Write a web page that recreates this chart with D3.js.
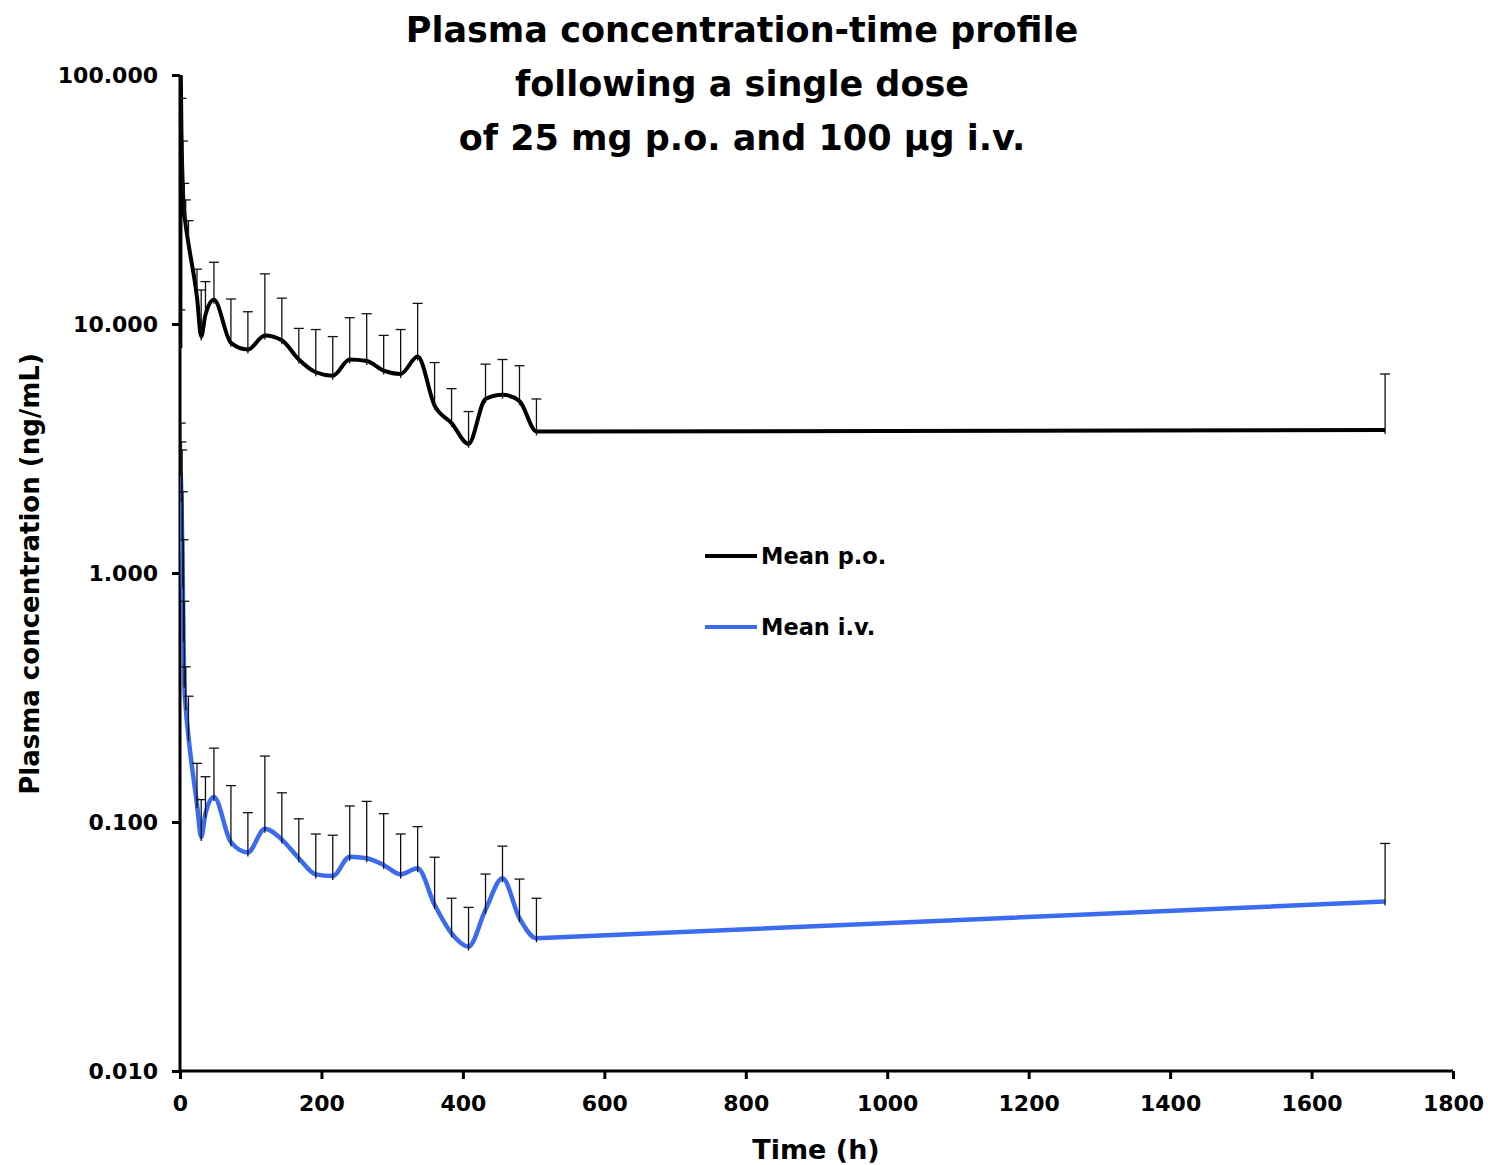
<!DOCTYPE html>
<html>
<head>
<meta charset="utf-8">
<script src="https://cdn.jsdelivr.net/npm/d3@7"></script>
<style>
  body { margin: 0; background: #fff; }
  text { font-family: "DejaVu Sans", Arial, sans-serif; font-weight: bold; fill: #000; }
</style>
</head>
<body>
<div class="chart"></div>
<script>
// sampling times (h)
const poTime = [0.5, 1, 2, 4, 6, 8, 12, 24, 30, 36, 48, 72, 96, 120, 144, 168, 192, 216, 240, 264, 288, 312, 336, 360, 384, 408, 432, 456, 480, 504, 1704];
const poMean = [8, 100, 60, 35, 28, 25, 21, 12.8, 8.9, 10.9, 12.5, 8.4, 7.9, 9.0, 8.6, 7.2, 6.4, 6.2, 7.2, 7.1, 6.5, 6.3, 7.4, 4.7, 4.0, 3.3, 5.0, 5.2, 4.9, 3.7, 3.75];
const poSD   = [3.4, 25, 20.6, 19.3, 8.7, 6.5, 5, 3.8, 4.8, 3.9, 5.2, 4.2, 3.3, 6.9, 4.1, 2.4, 3.1, 2.7, 3.4, 3.9, 2.5, 3.2, 4.7, 2.3, 1.5, 1.15, 1.9, 2.0, 1.9, 1.3, 2.55];

const ivTime = [1, 2, 3, 4, 5, 6, 8, 12, 24, 30, 36, 48, 72, 96, 120, 144, 168, 192, 216, 240, 264, 288, 312, 336, 360, 384, 408, 432, 456, 480, 504, 1704];
const ivMean = [2.55, 2.0, 1.4, 0.9, 0.55, 0.36, 0.29, 0.22, 0.118, 0.087, 0.108, 0.126, 0.083, 0.0755, 0.094, 0.085, 0.0715, 0.0616, 0.0607, 0.0726, 0.0715, 0.0672, 0.0616, 0.0652, 0.0465, 0.0357, 0.0316, 0.0444, 0.0594, 0.0411, 0.0341, 0.0479];
const ivSD   = [1.45, 1.36, 1.72, 1.22, 0.81, 0.41, 0.13, 0.10, 0.054, 0.036, 0.044, 0.072, 0.057, 0.0335, 0.090, 0.046, 0.0315, 0.0279, 0.0278, 0.0434, 0.0495, 0.0408, 0.0279, 0.0306, 0.0257, 0.0137, 0.0138, 0.0174, 0.0206, 0.0179, 0.0153, 0.0341];

const xTicks = [0, 200, 400, 600, 800, 1000, 1200, 1400, 1600, 1800];
const yTicks = [0.01, 0.1, 1, 10, 100];
const titleLines = ['Plasma concentration-time profile', 'following a single dose', 'of 25 mg p.o. and 100 µg i.v.'];

const _width = 1488, _height = 1165;
const margin = {left: 180, right: 35, top: 75, bottom: 94};
const blue = '#3b6cf0';

let svg = d3.select('.chart')
    .append('svg')
    .attr('width', _width)
    .attr('height', _height);

let x = d3.scaleLinear().domain([0, 1800]).range([margin.left, _width - margin.right]);
let y = d3.scaleLog().domain([0.01, 100]).range([_height - margin.bottom, margin.top]);

svg.append('defs').append('clipPath').attr('id', 'plot')
    .append('rect')
    .attr('x', x(0)).attr('y', y(100))
    .attr('width', x(1800) - x(0) + 5).attr('height', y(0.01) - y(100));

// title
svg.append('g').selectAll('text')
    .data(titleLines)
    .enter().append('text')
    .attr('x', 742)
    .attr('y', (d, i) => 42 + i * 54)
    .attr('text-anchor', 'middle')
    .style('font-size', '35px')
    .text(d => d);

// axes first, curves are drawn over them
let xAxis = svg.append('g')
    .attr('transform', `translate(0,${y(0.01)})`)
    .call(d3.axisBottom(x).tickValues(xTicks).tickSize(8).tickPadding(16).tickFormat(d3.format('d')));
let yAxis = svg.append('g')
    .attr('transform', `translate(${x(0)},0)`)
    .call(d3.axisLeft(y).tickValues(yTicks).tickSize(8).tickPadding(14).tickFormat(d3.format('.3f')));

[xAxis, yAxis].forEach(a => {
    a.select('.domain').attr('stroke', '#000').attr('stroke-width', 3);
    a.selectAll('.tick line').attr('stroke', '#000').attr('stroke-width', 3);
    a.selectAll('.tick text')
        .style('font-size', '22px')
        .style('font-family', '"DejaVu Sans", Arial, sans-serif')
        .style('font-weight', 'bold')
        .attr('fill', '#000');
});
xAxis.select('.domain').attr('d', `M${x(0)},0H${x(1800)}`);
yAxis.select('.domain').attr('d', `M0,${y(100)}V${y(0.01)}`);

// series
let series = [
    {time: poTime, mean: poMean, sd: poSD, color: '#000', width: 4},
    {time: ivTime, mean: ivMean, sd: ivSD, color: blue, width: 4.5}
];

let line = d3.line()
    .x(d => x(d[0]))
    .y(d => y(d[1]))
    .curve(d3.curveMonotoneX);

// smooth through the sampled days, straight across the long gap to the last sample
function seriesPath(pts) {
    let d = line(pts);
    let last = pts[pts.length - 1];
    return d.slice(0, d.lastIndexOf('C')) + 'L' + x(last[0]) + ',' + y(last[1]);
}

let plot = svg.append('g').attr('clip-path', 'url(#plot)');

series.forEach(s => {
    let pts = s.time.map((t, i) => [t, s.mean[i], s.sd[i]]);
    plot.append('path')
        .attr('fill', 'none')
        .attr('stroke', s.color)
        .attr('stroke-width', s.width)
        .attr('stroke-linejoin', 'round')
        .attr('d', seriesPath(pts));

    let bars = plot.append('g')
        .attr('stroke', '#111')
        .attr('stroke-width', 1.3)
        .selectAll('g')
        .data(pts)
        .enter().append('g');
    bars.append('line')
        .attr('x1', d => x(d[0])).attr('x2', d => x(d[0]))
        .attr('y1', d => y(d[1]) + 4)
        .attr('y2', d => y(d[1] + d[2]));
    bars.append('line')
        .attr('x1', d => x(d[0]) - 5).attr('x2', d => x(d[0]) + 5)
        .attr('y1', d => y(d[1] + d[2]))
        .attr('y2', d => y(d[1] + d[2]));
});

// axis titles
svg.append('text')
    .attr('x', 816).attr('y', 1159)
    .attr('text-anchor', 'middle')
    .style('font-size', '27px')
    .text('Time (h)');
svg.append('text')
    .attr('transform', 'translate(39,574) rotate(-90)')
    .attr('text-anchor', 'middle')
    .style('font-size', '26px')
    .text('Plasma concentration (ng/mL)');

// legend
let legend = svg.append('g').selectAll('g')
    .data([{label: 'Mean p.o.', color: '#000', y: 556}, {label: 'Mean i.v.', color: blue, y: 627}])
    .enter().append('g');
legend.append('line')
    .attr('x1', 705).attr('x2', 757)
    .attr('y1', d => d.y).attr('y2', d => d.y)
    .attr('stroke', d => d.color)
    .attr('stroke-width', 4);
legend.append('text')
    .attr('x', 761).attr('y', d => d.y + 8)
    .style('font-size', '22.5px')
    .text(d => d.label);
</script>
</body>
</html>
